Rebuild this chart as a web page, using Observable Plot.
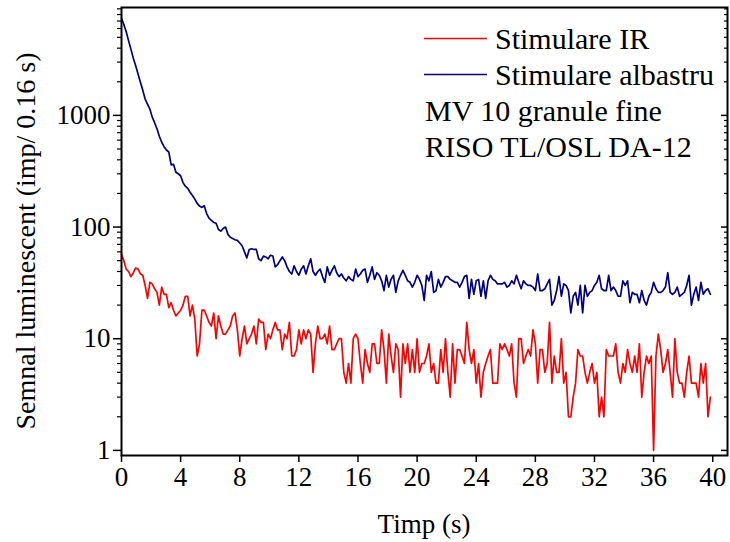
<!DOCTYPE html>
<html>
<head>
<meta charset="utf-8">
<script src="https://cdn.jsdelivr.net/npm/d3@7"></script>
<script src="https://cdn.jsdelivr.net/npm/@observablehq/plot@0.6"></script>
<style>
  html, body { margin: 0; padding: 0; background: #fff; }
</style>
</head>
<body>
<div id="chart"></div>
<script>
// sampling interval (s)
const dt = 0.16;

// Stimulare IR (imp / 0.16 s)
const irCounts = [
  57,50,42,40,36,39,43,42,38,37, 30,23,32,31,28,26,20,29,25,25,
  19,21,18,16,17,18,20,24,24,16, 20,15,7,9,18,18,16,14,13,17,
  10,16,13,11,11,12,13,16,17,12, 7,
  10,13,9,10,11,13,9,15,14,14, 8,11,10,12,14,12,12,8,11,10,
  14,7,7,8,12,9,12,10,12,11, 5,9,13,10,10,11,9,13,8,8,
  9,10,10,5,4,6,4,10,11,10, 6,
  4,8,6,5,9,9,6,6,12,8, 4,11,7,5,9,8,3,9,6,9,
  5,8,5,10,5,6,6,7,9,5, 6,4,4,8,5,10,5,3,9,4,
  8,8,7,6,14,8,6,8,4,6, 3,
  5,6,7,8,4,4,4,9,8,9, 8,7,9,4,3,10,10,6,7,8,
  7,12,9,4,8,8,5,6,14,4, 7,5,5,10,4,5,2,2,3,4,
  8,7,7,5,4,5,6,4,5,2, 3,
  2,8,7,7,7,9,5,4,6, 5,8,6,5,7,5,9,3,5,7,
  6,7,1,7,11,8,5,6,8,5, 3,10,5,4,4,3,5,7,4,4,
  4,3,6,4,6,2,3
];

// Stimulare albastru (imp / 0.16 s)
const blueCounts = [
  7400,6500,5600,4650,3900,3250,2780,2350,1980,1680,
  1400,1260,1140,965,860,760,650,575,525,490,
  470,360,365,310,300,288,250,232,222,205,
  192,178,163,154,150,155,132,120,115,110,
  108,95,92,97,100,86,81,79,77,76, 72,
  68,60,53,63,64,63,63,52,50,55, 54,52,56,55,44,46,50,54,50,44,
  40,38,45,40,37,42,45,38,45,52, 40,37,40,42,36,32,44,37,41,45,
  39,36,38,35,33,36,34,33,42,36, 38,
  41,42,32,37,44,34,39,37,33,27, 37,29,34,37,26,33,37,41,37,33,
  32,29,32,37,34,30,22,37,33,40, 26,27,34,29,32,36,36,34,33,32,
  32,29,32,36,37,23,
  34,25,33,34,24,33,23,33,37,34, 33,31,31,31,32,29,30,33,31,37,
  32,28,33,31,30,30,29,27,38,27, 27,28,31,34,20,22,27,36,24,31,
  30,27,17,24,26,20,30,17,30,24, 26,27,30,32,37,28,
  27,27,37,27,29,27,24,24,33, 30,33,21,26,25,25,21,27,22,20,
  24,26,32,28,26,26,27,29,39,26, 25,26,29,24,25,26,30,37,20,25,
  29,22,32,25,27,28,25
];

const seriesNames = ["Stimulare IR", "Stimulare albastru"];
const seriesColors = ["#ff0000", "#000080"];
const noteLines = ["MV 10 granule fine", "RISO TL/OSL DA-12"];

const xTicks = [0, 4, 8, 12, 16, 20, 24, 28, 32, 36, 40];
const yTicks = [1, 10, 100, 1000];
const yMinorTicks = [2,3,4,5,6,7,8,9, 20,30,40,50,60,70,80,90,
                     200,300,400,500,600,700,800,900, 2000,3000,4000,5000,6000,7000,8000,9000];
const xLabel = "Timp (s)";
const yLabel = "Semnal luminescent (imp/ 0.16 s)";

const irRows = irCounts.map((v, i) => ({t: i * dt, v}));
const blueRows = blueCounts.map((v, i) => ({t: i * dt, v}));

const W = 730, H = 542;
const mL = 121, mR = 3, mT = 7, mB = 87;
const font = "'Liberation Serif', 'Times New Roman', serif";
const noLabel = () => "";

const chart = Plot.plot({
  width: W,
  height: H,
  marginLeft: mL,
  marginRight: mR,
  marginTop: mT,
  marginBottom: mB,
  style: {fontFamily: font, fontSize: "27px", color: "#000", background: "#fff", overflow: "visible"},
  x: {domain: [0, 41]},
  y: {type: "log", domain: [0.9, 9250]},
  marks: [
    Plot.axisX(xTicks, {anchor: "bottom", tickSize: 7, tickPadding: 4, strokeWidth: 1.5, label: null, tickFormat: d3.format("d")}),
    Plot.axisY(yTicks, {anchor: "left", tickSize: 8, tickPadding: 3, strokeWidth: 1.5, label: null, tickFormat: d3.format("d")}),
    Plot.axisY(yMinorTicks, {anchor: "left", tickSize: 4, strokeWidth: 1.2, label: null, tickFormat: noLabel}),
    Plot.axisY(yTicks, {anchor: "right", tickSize: -7, strokeWidth: 1.5, label: null, tickFormat: noLabel}),
    Plot.axisY(yMinorTicks, {anchor: "right", tickSize: -4, strokeWidth: 1.2, label: null, tickFormat: noLabel}),
    Plot.line(blueRows, {x: "t", y: "v", stroke: seriesColors[1], strokeWidth: 1.7}),
    Plot.line(irRows, {x: "t", y: "v", stroke: seriesColors[0], strokeWidth: 1.7}),
    Plot.frame({stroke: "#000", strokeWidth: 2})
  ]
});

document.getElementById("chart").appendChild(chart);

const svg = d3.select(chart);

// axis titles
svg.append("text")
  .attr("x", (mL + (W - mR)) / 2).attr("y", 533)
  .attr("text-anchor", "middle")
  .style("font-family", font).style("font-size", "27px").attr("fill", "#000")
  .text(xLabel);

svg.append("text")
  .attr("transform", "translate(35,241) rotate(-90)")
  .attr("text-anchor", "middle")
  .style("font-family", font).style("font-size", "28px").attr("fill", "#000")
  .text(yLabel);

// legend
const lg = svg.append("g").style("font-family", font).style("font-size", "30px").attr("text-anchor", "start");
const baselines = [48.5, 84.5, 120.5, 156.5];
seriesNames.forEach((name, i) => {
  lg.append("line")
    .attr("x1", 424).attr("x2", 487)
    .attr("y1", baselines[i] - 10).attr("y2", baselines[i] - 10)
    .attr("stroke", seriesColors[i]).attr("stroke-width", 1.6);
  lg.append("text").attr("x", 495).attr("y", baselines[i]).attr("text-anchor", "start").attr("fill", "#000").text(name);
});
noteLines.forEach((s, j) => {
  lg.append("text").attr("x", 425).attr("y", baselines[2 + j]).attr("text-anchor", "start").attr("fill", "#000").text(s);
});
</script>
</body>
</html>
